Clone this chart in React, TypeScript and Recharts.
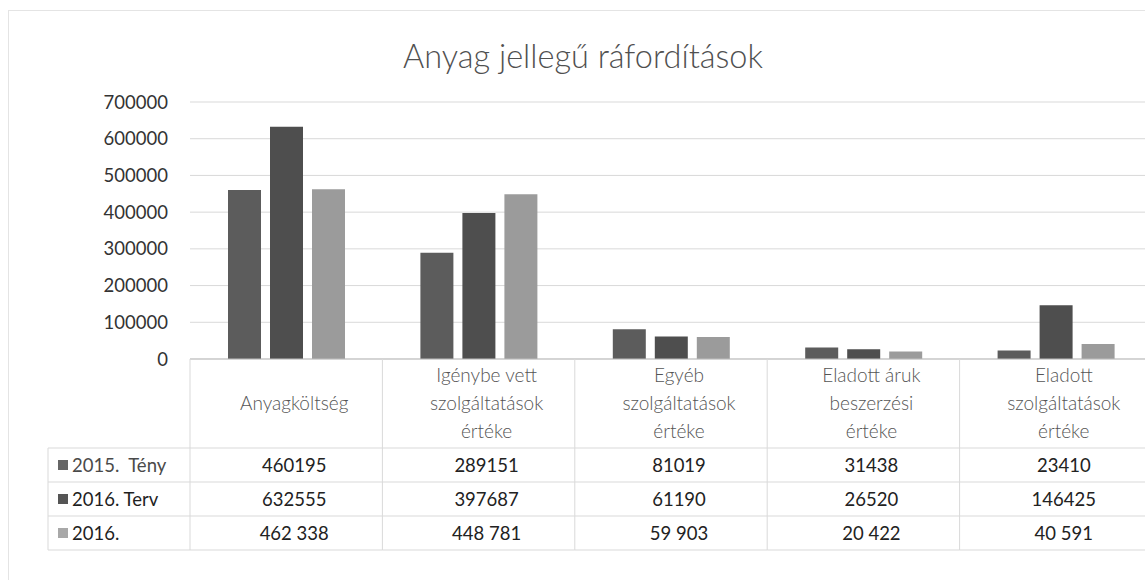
import { Bar, BarChart, CartesianGrid, XAxis, YAxis } from 'recharts';

const categories = [
  'Anyagköltség',
  'Igénybe vett szolgáltatások értéke',
  'Egyéb szolgáltatások értéke',
  'Eladott áruk beszerzési értéke',
  'Eladott szolgáltatások értéke'
];

// header lines as they wrap in the table
const headerLines = [
  ['Anyagköltség'],
  ['Igénybe vett', 'szolgáltatások', 'értéke'],
  ['Egyéb', 'szolgáltatások', 'értéke'],
  ['Eladott áruk', 'beszerzési', 'értéke'],
  ['Eladott', 'szolgáltatások', 'értéke']
];

const teny2015 = [460195, 289151, 81019, 31438, 23410];
const terv2016 = [632555, 397687, 61190, 26520, 146425];
const teny2016 = [462338, 448781, 59903, 20422, 40591];

const seriesNames = ['2015.  Tény', '2016. Terv', '2016.'];
const yTicks = [0, 100000, 200000, 300000, 400000, 500000, 600000, 700000];

const data = categories.map((name, i) => ({
  name,
  a: teny2015[i],
  b: terv2016[i],
  c: teny2016[i]
}));

const series = [
  { key: 'a', name: seriesNames[0], fill: '#5c5c5c', swatch: '#666666', text: '#4a4a4a', spaced: false },
  { key: 'b', name: seriesNames[1], fill: '#4e4e4e', swatch: '#555555', text: '#1f1f1f', spaced: false },
  { key: 'c', name: seriesNames[2], fill: '#9b9b9b', swatch: '#a8a8a8', text: '#1f1f1f', spaced: true }
];

const FONT = 'Lato, "Open Sans", sans-serif';
const CHART_W = 1162;
const CHART_H = 580;
const PLOT_LEFT = 190;
const PLOT_RIGHT = 1152;
const BAND = (PLOT_RIGHT - PLOT_LEFT) / categories.length;
const LINE = '#d9d9d9';

const fmt = (v: number, spaced: boolean) =>
  spaced ? String(v).replace(/\B(?=(\d{3})+(?!\d))/g, ' ') : String(v);

function TableTick(props: any) {
  const { x, y, payload } = props;
  const idx = categories.indexOf(payload.value);
  const left = x - BAND / 2;
  const right = x + BAND / 2;
  const rows = [y + 89, y + 123, y + 157, y + 191];
  const lines = headerLines[idx];
  const headerY = lines.length === 1 ? [y + 51] : [y + 23, y + 51, y + 79];
  const legendLeft = PLOT_LEFT - 142;

  return (
    <g fontFamily={FONT}>
      <line x1={left} x2={left} y1={y} y2={rows[3]} stroke={LINE} />
      {idx === categories.length - 1 && (
        <line x1={right} x2={right} y1={y} y2={rows[3]} stroke={LINE} />
      )}
      {rows.map((ry, r) => (
        <line key={r} x1={idx === 0 ? legendLeft : left} x2={right} y1={ry} y2={ry} stroke={LINE} />
      ))}
      {lines.map((t, k) => (
        <text key={k} x={x + 8} y={headerY[k]} textAnchor="middle" fontSize={19} fontWeight={300} fill="#555">
          {t}
        </text>
      ))}
      {series.map((s, r) => {
        const vals = r === 0 ? teny2015 : r === 1 ? terv2016 : teny2016;
        return (
          <text key={s.key} x={x + 8} y={rows[r] + 24} textAnchor="middle" fontSize={18.5} fill="#222">
            {fmt(vals[idx], s.spaced)}
          </text>
        );
      })}
      {idx === 0 && (
        <g>
          <line x1={legendLeft} x2={legendLeft} y1={rows[0]} y2={rows[3]} stroke={LINE} />
          {series.map((s, r) => (
            <g key={s.key}>
              <rect x={legendLeft + 10} y={rows[r] + 12} width={10} height={10} fill={s.swatch} />
              <text x={legendLeft + 24} y={rows[r] + 24} fontSize={18.5} fill={s.text} style={{ whiteSpace: 'pre' }}>
                {s.name}
              </text>
            </g>
          ))}
        </g>
      )}
    </g>
  );
}

export default function App() {
  return (
    <div
      style={{
        position: 'absolute',
        left: 0,
        top: 0,
        width: 1145,
        height: 580,
        overflow: 'hidden',
        background: '#fff',
        fontFamily: FONT
      }}
    >
      <div
        style={{
          position: 'absolute',
          left: 8,
          top: 10,
          width: 1160,
          height: 600,
          borderLeft: '1px solid #e4e4e4',
          borderTop: '1px solid #e4e4e4'
        }}
      />
      <div
        style={{
          position: 'absolute',
          left: 0,
          top: 36,
          width: 1166,
          textAlign: 'center',
          fontSize: 32.5,
          fontWeight: 300,
          color: '#505050'
        }}
      >
        Anyag jellegű ráfordítások
      </div>
      <BarChart
        width={CHART_W}
        height={CHART_H}
        data={data}
        margin={{ top: 102, right: CHART_W - PLOT_RIGHT, left: PLOT_LEFT - 90, bottom: 0 }}
        barCategoryGap={38}
        barGap={9}
      >
        <CartesianGrid vertical={false} stroke="#d9d9d9" />
        <XAxis
          dataKey="name"
          type="category"
          height={221}
          tickSize={0}
          tickMargin={0}
          axisLine={{ stroke: '#bdbdbd' }}
          tickLine={false}
          interval={0}
          tick={<TableTick />}
        />
        <YAxis
          type="number"
          width={90}
          domain={[0, 700000]}
          ticks={yTicks}
          tickSize={0}
          tickMargin={22}
          axisLine={false}
          tickLine={false}
          tick={{ fontSize: 18.5, fill: '#333', fontFamily: FONT }}
        />
        {series.map((s) => (
          <Bar key={s.key} dataKey={s.key} name={s.name} fill={s.fill} isAnimationActive={false} />
        ))}
      </BarChart>
    </div>
  );
}
